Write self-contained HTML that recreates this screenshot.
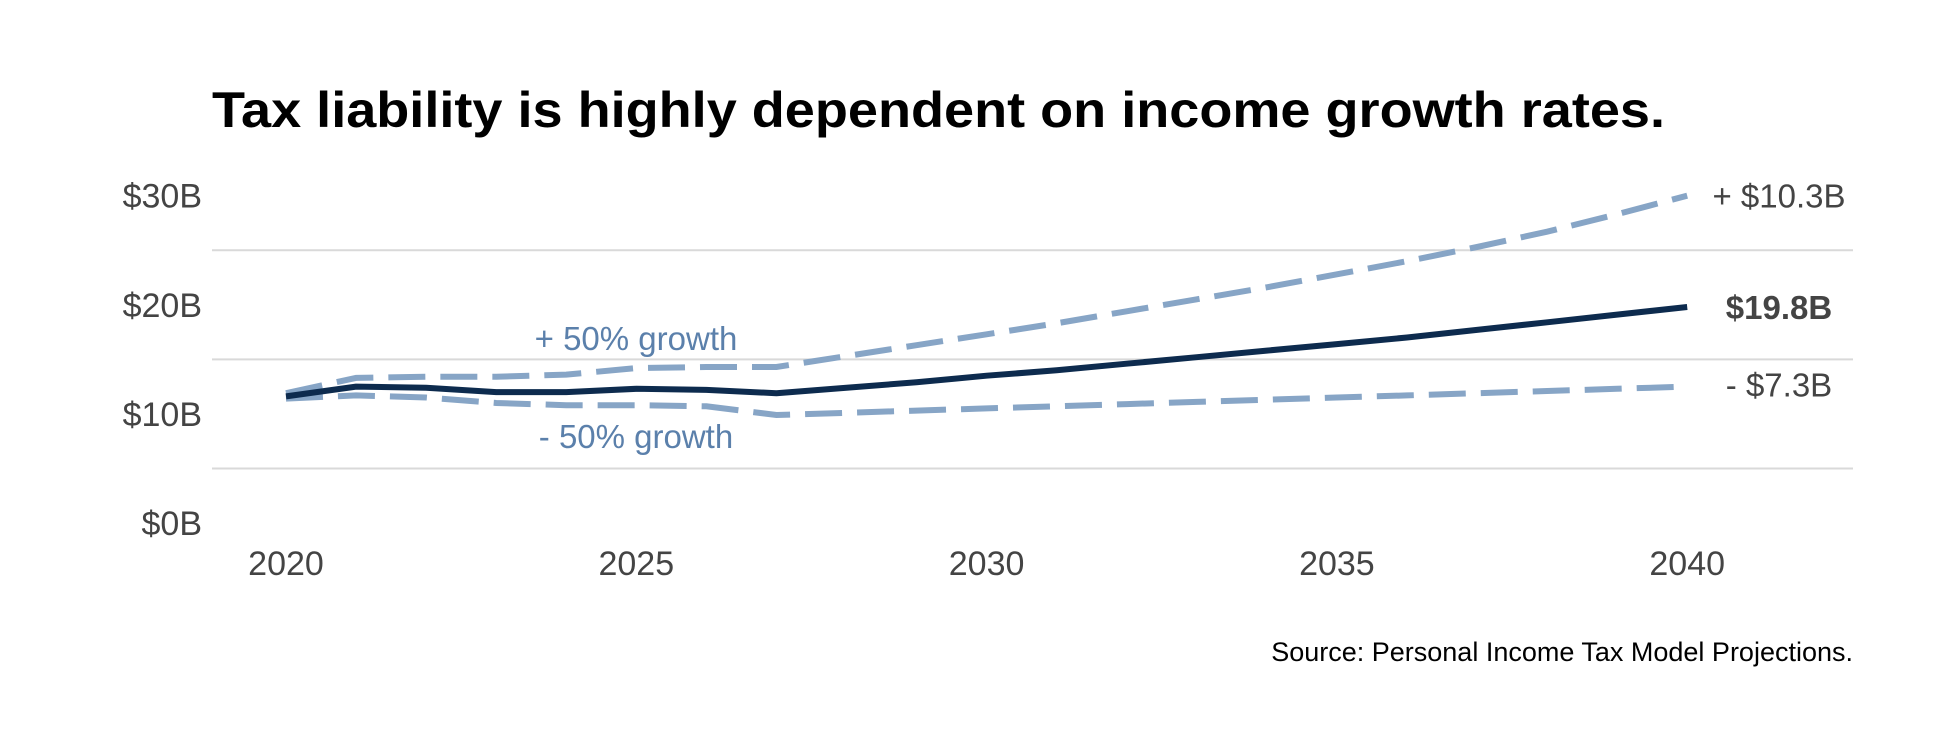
<!DOCTYPE html>
<html><head><meta charset="utf-8"><style>
html,body{margin:0;padding:0;background:#fff;}
svg{display:block;font-family:"Liberation Sans",Arial,sans-serif;}
</style></head><body>
<svg id="chart" width="1944" height="756" viewBox="0 0 1944 756">
<text x="212" y="127" font-size="50" font-weight="bold" fill="#000" textLength="1453" lengthAdjust="spacingAndGlyphs">Tax liability is highly dependent on income growth rates.</text>
<g id="grid"></g><g id="yticks"></g><g id="xticks"></g><g id="series"></g><g id="labels"></g>
<text x="1853" y="661" font-size="27" text-anchor="end" fill="#000">Source: Personal Income Tax Model Projections.</text>
</svg>
<script>
const years = [2020,2021,2022,2023,2024,2025,2026,2027,2028,2029,2030,2031,2032,2033,2034,2035,2036,2037,2038,2039,2040];
const baseline = [11.6,12.5,12.4,12.0,12.0,12.3,12.2,11.9,12.4,12.9,13.5,14.0,14.6,15.2,15.8,16.4,17.0,17.7,18.4,19.1,19.8];
const highGrowth = [11.9,13.3,13.4,13.4,13.6,14.2,14.3,14.3,15.3,16.3,17.3,18.3,19.4,20.5,21.6,22.8,24.0,25.3,26.7,28.3,30.0];
const lowGrowth = [11.4,11.7,11.5,11.0,10.8,10.8,10.7,9.9,10.1,10.3,10.5,10.7,10.9,11.1,11.3,11.5,11.7,11.9,12.1,12.3,12.5];
const yTickValues = [0,10,20,30];
const yTickLabels = ["$0B","$10B","$20B","$30B"];
const gridValues = [5,15,25];
const xTickValues = [2020,2025,2030,2035,2040];
const endLabels = ["+ $10.3B","$19.8B","- $7.3B"];

const NS="http://www.w3.org/2000/svg";
function X(yr){return 286+(yr-2020)*70.06;}
function Y(v){return 523-v*10.91;}
function mk(tag,attrs,parent,txt){const e=document.createElementNS(NS,tag);for(const k in attrs)e.setAttribute(k,attrs[k]);if(txt!==undefined)e.textContent=txt;document.getElementById(parent).appendChild(e);return e;}

gridValues.forEach(v=>{
  const l=mk('line',{x1:212,x2:1853,y1:Y(v),y2:Y(v),stroke:'#d9d9d9','stroke-width':2},'grid');
  
  
});
yTickValues.forEach((v,i)=>{
  const t=mk('text',{x:202,y:Y(v)+12,'font-size':34,'text-anchor':'end',fill:'#444'},'yticks',yTickLabels[i]);
  
  
});
xTickValues.forEach(yr=>{
  const t=mk('text',{x:X(yr),y:575,'font-size':34,'text-anchor':'middle',fill:'#444'},'xticks',String(yr));
  
  
});
function pts(arr){return arr.map((v,i)=>X(years[i]).toFixed(1)+','+Y(v).toFixed(1)).join(' ');}
const hi=mk('polyline',{points:pts(highGrowth),fill:'none',stroke:'#87a5c6','stroke-width':6,'stroke-dasharray':'37 15'},'series');


const lo=mk('polyline',{points:pts(lowGrowth),fill:'none',stroke:'#87a5c6','stroke-width':6,'stroke-dasharray':'37 15'},'series');


const base=mk('polyline',{points:pts(baseline),fill:'none',stroke:'#0d2b4e','stroke-width':6,'stroke-linejoin':'round'},'series');



const g1=mk('text',{x:636,y:350,'font-size':33,'text-anchor':'middle',fill:'#5b80ab'},'labels','+ 50% growth');


const g2=mk('text',{x:636,y:448,'font-size':33,'text-anchor':'middle',fill:'#5b80ab'},'labels','- 50% growth');


const last=years.length-1;
const e1=mk('text',{x:1779,y:Y(highGrowth[last])+12,'font-size':33,'text-anchor':'middle',fill:'#444'},'labels',endLabels[0]);


const e2=mk('text',{x:1779,y:Y(baseline[last])+12,'font-size':33,'font-weight':'bold','text-anchor':'middle',fill:'#444'},'labels',endLabels[1]);


const e3=mk('text',{x:1779,y:Y(lowGrowth[last])+10,'font-size':33,'text-anchor':'middle',fill:'#444'},'labels',endLabels[2]);


</script>
</body></html>
